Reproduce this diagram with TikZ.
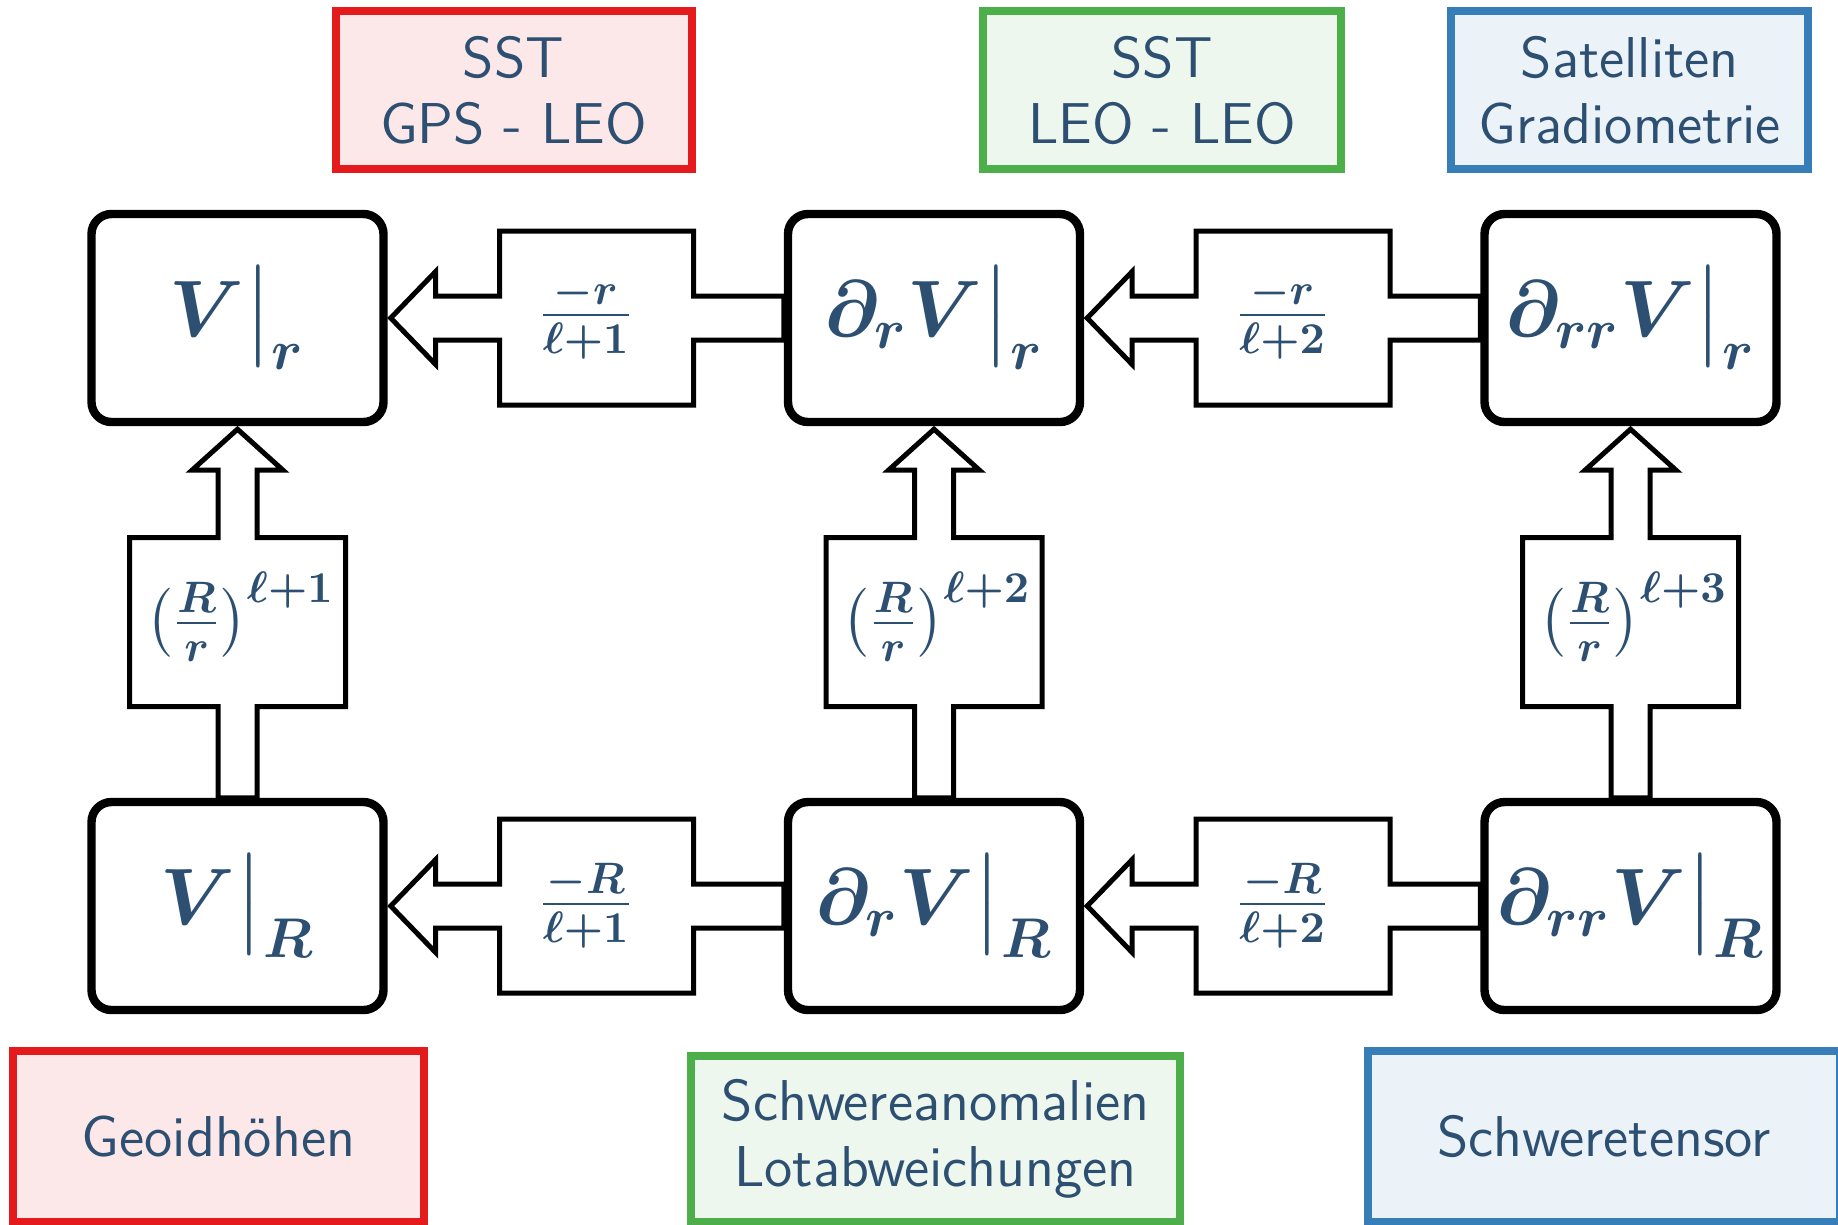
\documentclass[tikz,border=0pt]{standalone}
\usepackage{fix-cm}
\usepackage{amsmath}
\usetikzlibrary{calc}
\DeclareMathSizes{15.5}{15.5}{11}{8}
\DeclareMathSizes{20}{20}{14}{10}
\definecolor{txt}{HTML}{2C4F72}
\definecolor{cred}{HTML}{E41A1C}
\definecolor{cgreen}{HTML}{4DAF4A}
\definecolor{cblue}{HTML}{377EB8}
\tikzset{
  mainbox/.style={draw=black, fill=white, line width=2.1pt, rounded corners=5pt,
    minimum width=73pt, minimum height=52pt, inner sep=0pt, text=txt,
    font=\fontsize{20}{24}\selectfont\boldmath},
  infobox/.style={draw=#1, fill=#1!10, line width=2pt, inner sep=0pt, text=txt,
    align=center, font=\fontsize{14.4}{16.5}\selectfont\sffamily},
  fatarrow/.style={draw=black, fill=white, line width=1.25pt},
  arrowlabel/.style={text=txt, inner sep=0pt, font=\fontsize{15.5}{18}\selectfont\boldmath},
}
\newcommand\myharrow[4]{% #1 left (target) node, #2 right node, #3 label name, #4 label
  \draw[fatarrow] ($(#1.east)+(3,0)$) -- ($(#1.east)+(48,-46.5)$) -- ($(#1.east)+(48,-22)$)
    -- ($(#1.east)+(112,-22)$) -- ($(#1.east)+(112,-87)$) -- ($(#1.east)+(306,-87)$)
    -- ($(#1.east)+(306,-22)$) -- ($(#2.west)+(0,-22)$) -- ($(#2.west)+(0,22)$)
    -- ($(#1.east)+(306,22)$) -- ($(#1.east)+(306,87)$) -- ($(#1.east)+(112,87)$)
    -- ($(#1.east)+(112,22)$) -- ($(#1.east)+(48,22)$) -- ($(#1.east)+(48,46.5)$) -- cycle;
  \node[arrowlabel] (#3) at ($(#1.east)!0.5!(#2.west)$) {$#4$};
}
\newcommand\myvarrow[4]{% #1 top (target) node, #2 bottom node, #3 label name, #4 label
  \draw[fatarrow] ($(#1.south)+(0,3)$) -- ($(#1.south)+(45.5,44)$) -- ($(#1.south)+(19.5,44)$)
    -- ($(#1.south)+(19.5,111.5)$) -- ($(#1.south)+(108,111.5)$) -- ($(#1.south)+(108,280.5)$)
    -- ($(#1.south)+(19.5,280.5)$) -- ($(#2.north)+(19.5,0)$) -- ($(#2.north)+(-19.5,0)$)
    -- ($(#1.south)+(-19.5,280.5)$) -- ($(#1.south)+(-108,280.5)$) -- ($(#1.south)+(-108,111.5)$)
    -- ($(#1.south)+(-19.5,111.5)$) -- ($(#1.south)+(-19.5,44)$) -- ($(#1.south)+(-45.5,44)$) -- cycle;
  \node[arrowlabel] (#3) at ($(#1.south)!0.5!(#2.north)+(3,5)$) {$#4$};
}
\begin{document}
\begin{tikzpicture}[x=0.25pt, y=-0.25pt]
\useasboundingbox (0,0) rectangle (1838,1224);

% info frames
\node[infobox=cred,   minimum width=89pt,    minimum height=39.5pt]  (gpsleo)  at (513.5,90)    {SST\\GPS - LEO};
\node[infobox=cgreen, minimum width=89.3pt,  minimum height=39.5pt]  (leoleo)  at (1162,90)     {SST\\LEO - LEO};
\node[infobox=cblue,  minimum width=89.3pt,  minimum height=39.5pt]  (gradio)  at (1629.7,90)   {Satelliten\\Gradiometrie};
\node[infobox=cred,   minimum width=102.75pt,minimum height=42.75pt] (geoid)   at (218.5,1136.5){Geoidhöhen};
\node[infobox=cgreen, minimum width=122.25pt,minimum height=41.5pt]  (anomal)  at (935.5,1139)  {Schwereanomalien\\Lotabweichungen};
\node[infobox=cblue,  minimum width=118pt,   minimum height=42.75pt] (tensor)  at (1604,1136.5) {Schweretensor};

% main boxes
\node[mainbox] (Vr)   at (237.5,318)  {$V\big|_{r}$};
\node[mainbox] (dVr)  at (934,318)    {$\partial_r V\big|_{r}$};
\node[mainbox] (ddVr) at (1630.5,318) {$\partial_{rr} V\big|_{r}$};
\node[mainbox] (VR)   at (237.5,906)  {$V\big|_{R}$};
\node[mainbox] (dVR)  at (934,906)    {$\partial_r V\big|_{R}$};
\node[mainbox] (ddVR) at (1630.5,906) {$\partial_{rr} V\big|_{R}$};

% horizontal arrows
\myharrow{Vr}{dVr}{lab1}{\frac{-r}{\ell+1}}
\myharrow{dVr}{ddVr}{lab2}{\frac{-r}{\ell+2}}
\myharrow{VR}{dVR}{lab3}{\frac{-R}{\ell+1}}
\myharrow{dVR}{ddVR}{lab4}{\frac{-R}{\ell+2}}

% vertical arrows
\myvarrow{Vr}{VR}{lab5}{\bigl(\frac{R}{r}\bigr)^{\ell+1}}
\myvarrow{dVr}{dVR}{lab6}{\bigl(\frac{R}{r}\bigr)^{\ell+2}}
\myvarrow{ddVr}{ddVR}{lab7}{\bigl(\frac{R}{r}\bigr)^{\ell+3}}
\end{tikzpicture}
\end{document}
